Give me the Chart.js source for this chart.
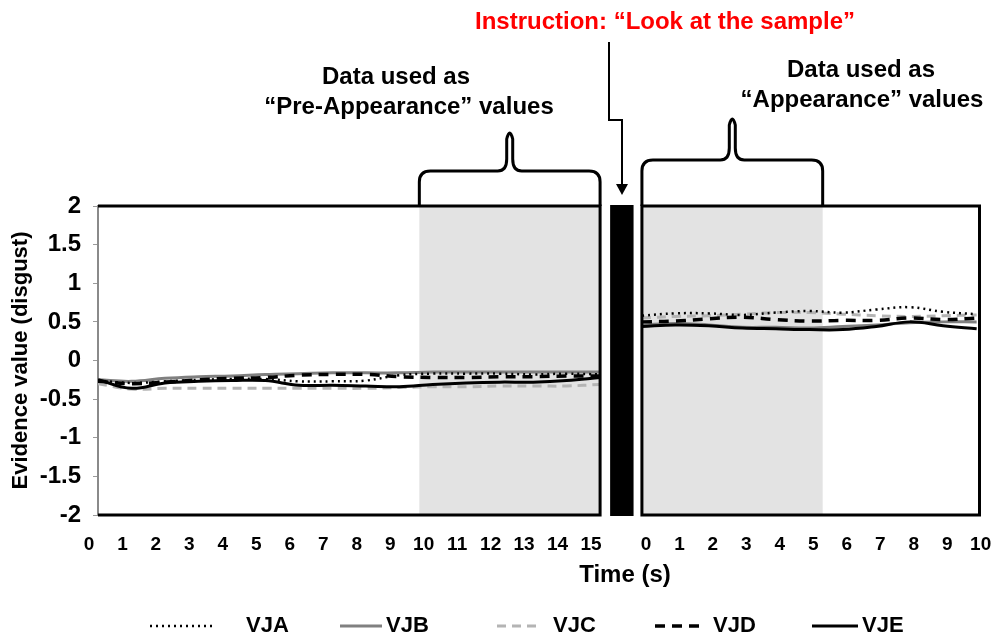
<!DOCTYPE html>
<html>
<head>
<meta charset="utf-8">
<script src="https://cdn.jsdelivr.net/npm/chart.js@4.4.0/dist/chart.umd.min.js"></script>
<style>
html, body { margin: 0; padding: 0; background: #fff; }
#wrap { width: 993px; height: 636px; position: relative; }
</style>
</head>
<body>
<div id="wrap"><canvas id="evidence-chart" width="993" height="636"></canvas></div>
<script>
// time points (s) for the two panels
const leftTime = [0, 1, 2, 3, 4, 5, 6, 7, 8, 9, 10, 11, 12, 13, 14, 15];
const rightTime = [0, 1, 2, 3, 4, 5, 6, 7, 8, 9, 10];

// series, left panel (before instruction)
const vjaLeft = [-0.26, -0.29, -0.27, -0.25, -0.24, -0.24, -0.27, -0.27, -0.26, -0.19, -0.17, -0.17, -0.17, -0.18, -0.17, -0.18];
const vjbLeft = [-0.25, -0.27, -0.23, -0.21, -0.20, -0.18, -0.17, -0.16, -0.16, -0.16, -0.15, -0.15, -0.15, -0.15, -0.15, -0.15];
const vjcLeft = [-0.30, -0.37, -0.36, -0.36, -0.36, -0.36, -0.36, -0.36, -0.36, -0.35, -0.34, -0.34, -0.33, -0.33, -0.33, -0.31];
const vjdLeft = [-0.27, -0.30, -0.28, -0.25, -0.23, -0.22, -0.19, -0.18, -0.18, -0.21, -0.22, -0.22, -0.21, -0.21, -0.20, -0.20];
const vjeLeft = [-0.25, -0.36, -0.29, -0.27, -0.26, -0.26, -0.32, -0.32, -0.33, -0.34, -0.31, -0.29, -0.28, -0.28, -0.26, -0.22];

// series, right panel (after instruction)
const vjaRight = [0.58, 0.61, 0.61, 0.59, 0.62, 0.64, 0.62, 0.66, 0.69, 0.63, 0.60];
const vjbRight = [0.46, 0.48, 0.46, 0.43, 0.43, 0.42, 0.44, 0.46, 0.49, 0.50, 0.50];
const vjcRight = [0.55, 0.57, 0.58, 0.60, 0.62, 0.62, 0.60, 0.58, 0.57, 0.58, 0.59];
const vjdRight = [0.50, 0.51, 0.54, 0.56, 0.53, 0.51, 0.52, 0.52, 0.55, 0.53, 0.55];
const vjeRight = [0.44, 0.46, 0.45, 0.42, 0.41, 0.40, 0.40, 0.44, 0.50, 0.45, 0.41];

const seriesNames = ['VJA', 'VJB', 'VJC', 'VJD', 'VJE'];

// tick labels
const leftTickLabels = ['0', '1', '2', '3', '4', '5', '6', '7', '8', '9', '10', '11', '12', '13', '14', '15'];
const rightTickLabels = ['0', '1', '2', '3', '4', '5', '6', '7', '8', '9', '10'];
const yTicks = [-2, -1.5, -1, -0.5, 0, 0.5, 1, 1.5, 2];

// layout of the shared x axis: right panel is shifted along the same scale
const RIGHT_OFFSET = 16.25;
const X_MAX = 26.38;
const LEFT_LABEL_SHIFT = -0.27;
const RIGHT_LABEL_SHIFT = 0.12;
const shadeSpans = [[9.6, 15], [RIGHT_OFFSET, RIGHT_OFFSET + 5.4]];
const FONT = '"Liberation Sans", Arial, sans-serif';

function panelPoints(left, right) {
    const pts = leftTime.map((t, i) => ({ x: t, y: left[i] }));
    pts.push({ x: 15.6, y: null }); // gap between panels
    rightTime.forEach((t, i) => pts.push({ x: RIGHT_OFFSET + t, y: right[i] }));
    return pts;
}

const tickValues = leftTime.map(t => t + LEFT_LABEL_SHIFT)
    .concat(rightTime.map(t => RIGHT_OFFSET + t + RIGHT_LABEL_SHIFT));
const tickLabels = leftTickLabels.concat(rightTickLabels);

// curly brace above a shaded span
function drawBrace(ctx, x0, x1, baseY, barY, tipY) {
    const mid = (x0 + x1) / 2;
    const r = 11;
    ctx.beginPath();
    ctx.moveTo(x0, baseY);
    ctx.lineTo(x0, barY + r);
    ctx.quadraticCurveTo(x0, barY, x0 + r, barY);
    ctx.lineTo(mid - 12, barY);
    ctx.quadraticCurveTo(mid - 3, barY, mid - 3, barY - 12);
    ctx.lineTo(mid - 3, tipY + 9);
    ctx.quadraticCurveTo(mid, tipY - 3, mid + 3, tipY + 9);
    ctx.lineTo(mid + 3, barY - 12);
    ctx.quadraticCurveTo(mid + 3, barY, mid + 12, barY);
    ctx.lineTo(x1 - r, barY);
    ctx.quadraticCurveTo(x1, barY, x1, barY + r);
    ctx.lineTo(x1, baseY);
    ctx.stroke();
}

const overlayPlugin = {
    id: 'overlay',
    beforeDatasetsDraw(chart) {
        const { ctx, chartArea: a, scales: { x } } = chart;
        ctx.save();
        ctx.fillStyle = '#e3e3e3';
        shadeSpans.forEach(([s, e]) => {
            const x0 = x.getPixelForValue(s);
            const x1 = x.getPixelForValue(e);
            ctx.fillRect(x0, a.top, x1 - x0, a.bottom - a.top);
        });
        ctx.restore();
    },
    afterDraw(chart) {
        const { ctx, chartArea: a, scales: { x } } = chart;
        const leftEnd = x.getPixelForValue(15);
        const rightStart = x.getPixelForValue(RIGHT_OFFSET);
        ctx.save();
        ctx.strokeStyle = '#000';
        ctx.lineWidth = 3;
        // left panel frame
        ctx.beginPath();
        ctx.moveTo(a.left, a.top);
        ctx.lineTo(leftEnd, a.top);
        ctx.lineTo(leftEnd, a.bottom);
        ctx.lineTo(a.left, a.bottom);
        ctx.stroke();
        // right panel frame
        ctx.strokeRect(rightStart, a.top, a.right - 1.5 - rightStart, a.bottom - a.top);
        // black bar = instruction moment
        ctx.fillStyle = '#000';
        const b0 = x.getPixelForValue(15.3);
        const b1 = x.getPixelForValue(16.0);
        ctx.fillRect(b0, a.top - 1, b1 - b0, a.bottom - a.top + 2);

        // braces
        ctx.lineWidth = 3;
        drawBrace(ctx, x.getPixelForValue(shadeSpans[0][0]), leftEnd, a.top, 171, 130);
        drawBrace(ctx, rightStart, x.getPixelForValue(shadeSpans[1][1]), a.top, 160, 116);

        // arrow from instruction
        ctx.lineWidth = 2;
        ctx.beginPath();
        ctx.moveTo(609, 42);
        ctx.lineTo(609, 120);
        ctx.lineTo(622, 120);
        ctx.lineTo(622, 186);
        ctx.stroke();
        ctx.beginPath();
        ctx.moveTo(616, 184);
        ctx.lineTo(628, 184);
        ctx.lineTo(622, 195);
        ctx.closePath();
        ctx.fill();

        // texts
        ctx.textAlign = 'center';
        ctx.textBaseline = 'middle';
        ctx.font = 'bold 24px ' + FONT;
        ctx.fillStyle = '#ff0000';
        ctx.fillText('Instruction: \u201cLook at the sample\u201d', 665, 22);
        ctx.fillStyle = '#000';
        ctx.fillText('Data used as', 396, 77);
        ctx.fillText('\u201cPre-Appearance\u201d values', 409, 107);
        ctx.fillText('Data used as', 861, 70);
        ctx.fillText('\u201cAppearance\u201d values', 862, 100);
        ctx.fillText('Time (s)', 625, 575);

        // legend
        const lineSpans = [[150, 212], [340, 382], [497, 541], [655, 700], [812, 858]];
        const textX = [246, 386, 553, 713, 862];
        const ly = 626;
        ctx.textAlign = 'left';
        ctx.font = 'bold 22px ' + FONT;
        chart.data.datasets.forEach((ds, i) => {
            ctx.strokeStyle = ds.borderColor;
            ctx.lineWidth = ds.borderWidth;
            ctx.setLineDash(ds.borderDash || []);
            ctx.beginPath();
            ctx.moveTo(lineSpans[i][0], ly);
            ctx.lineTo(lineSpans[i][1], ly);
            ctx.stroke();
            ctx.setLineDash([]);
            ctx.fillStyle = '#000';
            ctx.fillText(ds.label, textX[i], ly);
        });
        ctx.restore();
    }
};

const styles = [
    { borderColor: '#000000', borderWidth: 2.5, borderDash: [2, 4], order: 1 },
    { borderColor: '#808080', borderWidth: 3, borderDash: [], order: 4 },
    { borderColor: '#b4b4b4', borderWidth: 3, borderDash: [9, 6], order: 5 },
    { borderColor: '#000000', borderWidth: 3.5, borderDash: [10, 7], order: 2 },
    { borderColor: '#000000', borderWidth: 3, borderDash: [], order: 3 }
];
const leftSets = [vjaLeft, vjbLeft, vjcLeft, vjdLeft, vjeLeft];
const rightSets = [vjaRight, vjbRight, vjcRight, vjdRight, vjeRight];

const datasets = seriesNames.map((name, i) => Object.assign({
    label: name,
    data: panelPoints(leftSets[i], rightSets[i]),
    pointRadius: 0,
    tension: 0.4,
    fill: false,
    spanGaps: false
}, styles[i]));

Chart.defaults.font.family = FONT;
Chart.defaults.color = '#000';

const ctx = document.getElementById('evidence-chart').getContext('2d');
new Chart(ctx, {
    type: 'line',
    data: { datasets: datasets },
    options: {
        responsive: false,
        animation: false,
        devicePixelRatio: 1,
        layout: { padding: { top: 206, right: 12, bottom: 41, left: 0 } },
        plugins: {
            legend: { display: false },
            tooltip: { enabled: false }
        },
        scales: {
            x: {
                type: 'linear',
                min: 0,
                max: X_MAX,
                afterBuildTicks: scale => { scale.ticks = tickValues.map(v => ({ value: v })); },
                afterFit: scale => {
                    scale.height = 80;
                    scale.paddingLeft = 0;
                    scale.paddingRight = 0;
                },
                grid: { display: false },
                border: { display: false },
                ticks: {
                    autoSkip: false,
                    maxRotation: 0,
                    padding: 10,
                    font: { size: 19, weight: 'bold' },
                    callback: (v, i) => tickLabels[i]
                }
            },
            y: {
                min: -2,
                max: 2,
                afterBuildTicks: scale => { scale.ticks = yTicks.map(v => ({ value: v })); },
                afterFit: scale => {
                    scale.width = 98;
                    scale.paddingTop = 0;
                    scale.paddingBottom = 0;
                },
                grid: { drawOnChartArea: false, tickLength: 5, color: '#9a9a9a' },
                border: { display: true, color: '#8a8a8a', width: 2 },
                ticks: {
                    padding: 12,
                    font: { size: 24, weight: 'bold' },
                    callback: v => String(v)
                },
                title: {
                    display: true,
                    text: 'Evidence value (disgust)',
                    font: { size: 22, weight: 'bold' },
                    padding: { top: 8, bottom: 0 }
                }
            }
        }
    },
    plugins: [overlayPlugin]
});
</script>
</body>
</html>
